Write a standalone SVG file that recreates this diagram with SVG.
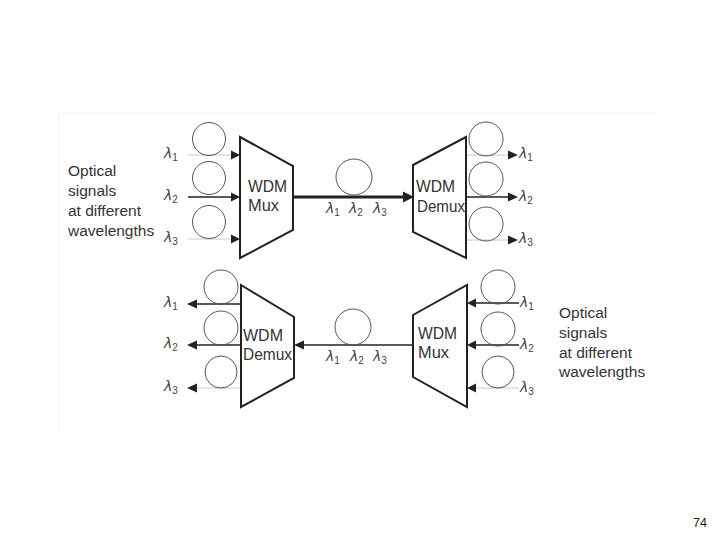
<svg xmlns="http://www.w3.org/2000/svg" width="720" height="540" viewBox="0 0 720 540">
<defs>
<style>
.box{fill:#fff;stroke:#222;stroke-width:2;stroke-linejoin:miter}
.ring{fill:none;stroke:#555;stroke-width:1}
.lbl{font-family:"Liberation Sans",Arial,sans-serif;font-size:16px;fill:#333}
.txt{font-family:"Liberation Sans",Arial,sans-serif;font-size:15.5px;fill:#333}
.lam{font-family:"DejaVu Sans",sans-serif;font-size:14px;font-style:oblique;fill:#444}
.sub{font-family:"Liberation Sans",Arial,sans-serif;font-size:10px;font-style:normal}
.dark{stroke:#222;stroke-width:1.3;fill:none}
.light{stroke:#c8c8c8;stroke-width:1;fill:none}
.thick{stroke:#222;stroke-width:3;fill:none}
.head{fill:#222;stroke:none}
</style>
</defs>
<rect x="0" y="0" width="720" height="540" fill="#fff"/>
<polyline points="59,430 59,113 655,113" fill="none" stroke="#f0f0f0" stroke-width="1"/>

<g id="connectors">
  <line class="light" x1="188" y1="155" x2="232" y2="155"/>
  <line class="dark" x1="188" y1="197" x2="232" y2="197"/>
  <line class="light" x1="188" y1="239" x2="232" y2="239"/>
  <polygon class="head" points="240,155 231,150.5 231,159.5"/>
  <polygon class="head" points="240,197 231,192.5 231,201.5"/>
  <polygon class="head" points="240,239 231,234.5 231,243.5"/>
  <line class="thick" x1="293" y1="197" x2="404" y2="197"/>
  <polygon class="head" points="414,197 403,191.5 403,202.5"/>
  <line class="light" x1="466" y1="155" x2="509" y2="155"/>
  <line class="dark" x1="466" y1="197" x2="509" y2="197"/>
  <line class="light" x1="466" y1="240" x2="509" y2="240"/>
  <polygon class="head" points="518,155 508,150.5 508,159.5"/>
  <polygon class="head" points="518,197 508,192.5 508,201.5"/>
  <polygon class="head" points="518,240 508,235.5 508,244.5"/>
  <line class="dark" x1="197" y1="304" x2="241" y2="304"/>
  <line class="dark" x1="197" y1="345" x2="241" y2="345"/>
  <line class="light" x1="197" y1="388" x2="241" y2="388"/>
  <polygon class="head" points="187,304 197,299.5 197,308.5"/>
  <polygon class="head" points="187,345 197,340.5 197,349.5"/>
  <polygon class="head" points="187,388 197,383.5 197,392.5"/>
  <line class="dark" x1="303" y1="345" x2="413" y2="345"/>
  <polygon class="head" points="294,345 304,340.5 304,349.5"/>
  <line class="dark" x1="475" y1="303" x2="519" y2="303"/>
  <line class="dark" x1="475" y1="345" x2="519" y2="345"/>
  <line class="light" x1="475" y1="388" x2="519" y2="388"/>
  <polygon class="head" points="467,303 476,298.5 476,307.5"/>
  <polygon class="head" points="467,345 476,340.5 476,349.5"/>
  <polygon class="head" points="467,388 476,383.5 476,392.5"/>
</g>

<g id="rings">
  <circle class="ring" cx="209" cy="139" r="16.5"/>
  <circle class="ring" cx="209" cy="178" r="16.5"/>
  <circle class="ring" cx="209" cy="222" r="16.5"/>
  <circle class="ring" cx="354" cy="177" r="18"/>
  <circle class="ring" cx="486" cy="139" r="17"/>
  <circle class="ring" cx="486" cy="179" r="17"/>
  <circle class="ring" cx="486" cy="224" r="17"/>
  <circle class="ring" cx="221" cy="287" r="17"/>
  <circle class="ring" cx="221" cy="328" r="17"/>
  <circle class="ring" cx="221" cy="372" r="16"/>
  <circle class="ring" cx="353" cy="327" r="18"/>
  <circle class="ring" cx="498" cy="287" r="17"/>
  <circle class="ring" cx="498" cy="329" r="17"/>
  <circle class="ring" cx="498" cy="372" r="16"/>
</g>

<g id="mux-top">
  <polygon class="box" points="240,137 293,166 293,230 240,258"/>
  <text class="lbl" x="248" y="192" textLength="39" lengthAdjust="spacingAndGlyphs">WDM</text>
  <text class="lbl" x="248" y="211" textLength="31" lengthAdjust="spacingAndGlyphs">Mux</text>
</g>
<g id="demux-top">
  <polygon class="box" points="413,165 466,137 466,258 413,232"/>
  <text class="lbl" x="416" y="192" textLength="39" lengthAdjust="spacingAndGlyphs">WDM</text>
  <text class="lbl" x="417" y="212" textLength="48" lengthAdjust="spacingAndGlyphs">Demux</text>
</g>
<g id="demux-bottom">
  <polygon class="box" points="241,285 294,317 294,378 241,407"/>
  <text class="lbl" x="243" y="341" textLength="40" lengthAdjust="spacingAndGlyphs">WDM</text>
  <text class="lbl" x="243" y="360" textLength="49" lengthAdjust="spacingAndGlyphs">Demux</text>
</g>
<g id="mux-bottom">
  <polygon class="box" points="413,315 467,285 467,407 413,377"/>
  <text class="lbl" x="418" y="339" textLength="39" lengthAdjust="spacingAndGlyphs">WDM</text>
  <text class="lbl" x="418" y="358" textLength="31" lengthAdjust="spacingAndGlyphs">Mux</text>
</g>

<g id="label-left">
  <text class="txt" x="68" y="176">Optical</text>
  <text class="txt" x="68" y="196">signals</text>
  <text class="txt" x="68" y="216">at different</text>
  <text class="txt" x="68" y="236">wavelengths</text>
</g>
<g id="label-right">
  <text class="txt" x="559" y="318">Optical</text>
  <text class="txt" x="559" y="338">signals</text>
  <text class="txt" x="559" y="358">at different</text>
  <text class="txt" x="559" y="377">wavelengths</text>
</g>

<g id="lambdas">
  <text class="lam" x="164" y="158">λ<tspan class="sub" dy="3">1</tspan></text>
  <text class="lam" x="164" y="200">λ<tspan class="sub" dy="3">2</tspan></text>
  <text class="lam" x="164" y="242">λ<tspan class="sub" dy="3">3</tspan></text>
  <text class="lam" x="326" y="213">λ<tspan class="sub" dy="3">1</tspan></text>
  <text class="lam" x="349" y="213">λ<tspan class="sub" dy="3">2</tspan></text>
  <text class="lam" x="373" y="213">λ<tspan class="sub" dy="3">3</tspan></text>
  <text class="lam" x="519" y="158">λ<tspan class="sub" dy="3">1</tspan></text>
  <text class="lam" x="519" y="201">λ<tspan class="sub" dy="3">2</tspan></text>
  <text class="lam" x="519" y="243">λ<tspan class="sub" dy="3">3</tspan></text>
  <text class="lam" x="164" y="307">λ<tspan class="sub" dy="3">1</tspan></text>
  <text class="lam" x="164" y="348">λ<tspan class="sub" dy="3">2</tspan></text>
  <text class="lam" x="164" y="391">λ<tspan class="sub" dy="3">3</tspan></text>
  <text class="lam" x="326" y="361">λ<tspan class="sub" dy="3">1</tspan></text>
  <text class="lam" x="350" y="361">λ<tspan class="sub" dy="3">2</tspan></text>
  <text class="lam" x="373" y="361">λ<tspan class="sub" dy="3">3</tspan></text>
  <text class="lam" x="520" y="307">λ<tspan class="sub" dy="3">1</tspan></text>
  <text class="lam" x="520" y="349">λ<tspan class="sub" dy="3">2</tspan></text>
  <text class="lam" x="520" y="392">λ<tspan class="sub" dy="3">3</tspan></text>
</g>

<text x="707" y="527" text-anchor="end" font-family="Liberation Sans, Arial, sans-serif" font-size="12.5" fill="#222">74</text>
</svg>
